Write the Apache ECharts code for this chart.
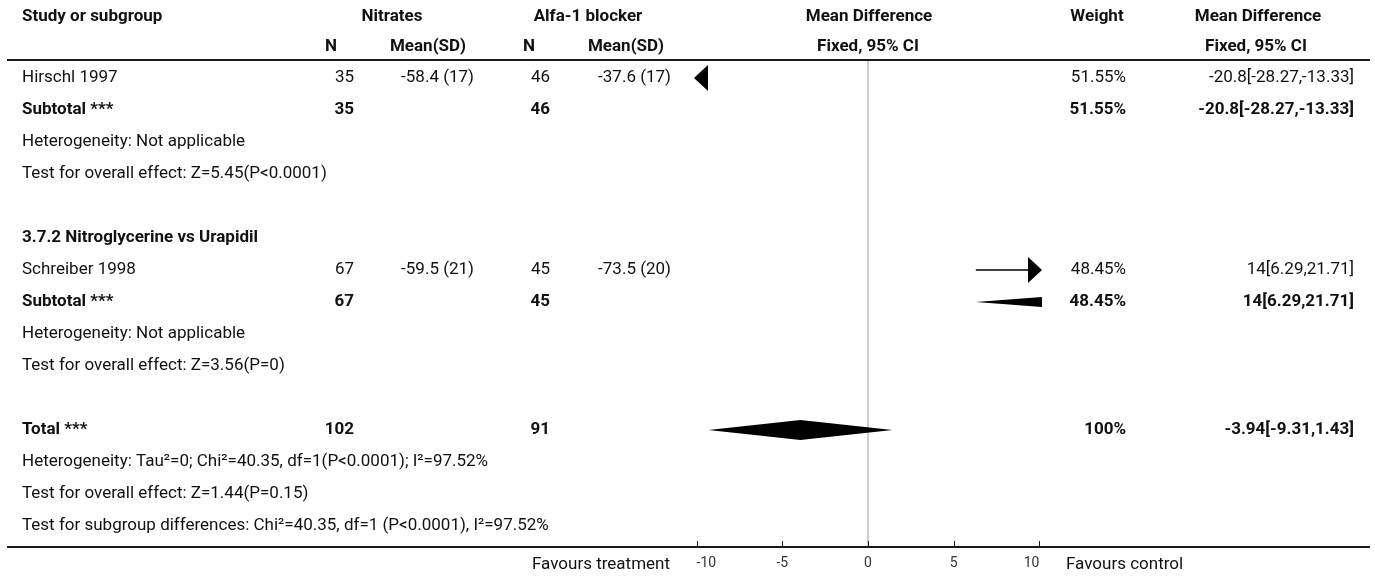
<!DOCTYPE html>
<html>
<head>
<meta charset="utf-8">
<script src="https://cdn.jsdelivr.net/npm/echarts@6/dist/echarts.min.js"></script>
<style>
  html, body { margin: 0; padding: 0; background: #fff; }
  #chart { width: 1375px; height: 579px; }
</style>
</head>
<body>
<div id="chart"></div>
<script>
// ---- study level data ----
const studyNames   = ['Hirschl 1997', 'Schreiber 1998'];
const nitratesN    = [35, 67];
const nitratesMean = [-58.4, -59.5];
const nitratesSD   = [17, 21];
const alfaN        = [46, 45];
const alfaMean     = [-37.6, -73.5];
const alfaSD       = [17, 20];
const studyMD      = [-20.8, 14];
const studyLow     = [-28.27, 6.29];
const studyHigh    = [-13.33, 21.71];
const studyWeight  = [51.55, 48.45];

// ---- subgroup text ----
const subgroupTitles = ['', '3.7.2 Nitroglycerine vs Urapidil'];
const subgroupHet    = ['Heterogeneity: Not applicable', 'Heterogeneity: Not applicable'];
const subgroupEffect = ['Test for overall effect: Z=5.45(P<0.0001)', 'Test for overall effect: Z=3.56(P=0)'];

// ---- pooled result ----
const totalN      = [102, 91];
const totalMD     = -3.94;
const totalLow    = -9.31;
const totalHigh   = 1.43;
const totalWeight = 100;
const totalNotes  = [
  'Heterogeneity: Tau²=0; Chi²=40.35, df=1(P<0.0001); I²=97.52%',
  'Test for overall effect: Z=1.44(P=0.15)',
  'Test for subgroup differences: Chi²=40.35, df=1 (P<0.0001), I²=97.52%'
];

// ---- axis ----
const axisTicks = [-10, -5, 0, 5, 10];
const axisMin = -10.15;
const axisMax = 10.15;
const favoursLeft = 'Favours treatment';
const favoursRight = 'Favours control';

// ---- layout ----
const FONT = 'Roboto, "Noto Sans", sans-serif';
const FS = 17;
const ROW0 = 78, ROW_H = 32, AXIS_Y = 547;
const yMin = -ROW0 / ROW_H;
const yMax = (AXIS_Y - ROW0) / ROW_H;
const COL = { label: 22, nN: 354, nMean: 474, aN: 550, aMean: 671, weight: 1126, ci: 1354 };

// build table rows
const rows = [];
for (let g = 0; g < studyNames.length; g++) {
  if (subgroupTitles[g]) rows.push({ kind: 'title', text: subgroupTitles[g] });
  rows.push({ kind: 'study', i: g });
  rows.push({ kind: 'subtotal', i: g });
  rows.push({ kind: 'note', text: subgroupHet[g] });
  rows.push({ kind: 'note', text: subgroupEffect[g] });
  rows.push({ kind: 'blank' });
}
rows.push({ kind: 'total' });
totalNotes.forEach(t => rows.push({ kind: 'note', text: t }));

const ciText = (md, lo, hi) => `${md}[${lo},${hi}]`;
const msd = (m, s) => `${m} (${s})`;

function txt(text, x, y, align, bold, extra) {
  return {
    type: 'text',
    style: Object.assign({
      text: String(text), x: x, y: y,
      align: align, verticalAlign: 'middle',
      font: (bold ? 'bold ' : '') + FS + 'px ' + FONT,
      fill: '#111'
    }, extra || {})
  };
}

function renderTable(params, api) {
  const idx = params.dataIndex;
  const children = [];
  if (idx === rows.length) {
    // headers, rules, axis ticks and direction captions
    const y1 = api.coord([0, yMin + 17 / ROW_H])[1];
    const y2 = api.coord([0, yMin + 47 / ROW_H])[1];
    const ruleY = api.coord([0, yMin + 60 / ROW_H])[1];
    const axisY = api.coord([0, yMax])[1];
    const zeroX = api.coord([0, 0])[0];
    children.push(
      txt('Study or subgroup', COL.label, y1, 'left', true),
      txt('Nitrates', 392, y1, 'center', true),
      txt('Alfa-1 blocker', 588, y1, 'center', true),
      txt('Mean Difference', 869, y1, 'center', true),
      txt('Weight', 1097, y1, 'center', true),
      txt('Mean Difference', 1258, y1, 'center', true),
      txt('N', 331, y2, 'center', true),
      txt('Mean(SD)', 428, y2, 'center', true),
      txt('N', 529, y2, 'center', true),
      txt('Mean(SD)', 626, y2, 'center', true),
      txt('Fixed, 95% CI', 868, y2, 'center', true),
      txt('Fixed, 95% CI', 1256, y2, 'center', true),
      { type: 'line', shape: { x1: zeroX, y1: ruleY, x2: zeroX, y2: axisY }, style: { stroke: '#9a9a9a', lineWidth: 1 } },
      { type: 'line', shape: { x1: 7, y1: ruleY, x2: 1370, y2: ruleY }, style: { stroke: '#1a1a1a', lineWidth: 2 } },
      { type: 'line', shape: { x1: 7, y1: axisY, x2: 1370, y2: axisY }, style: { stroke: '#1a1a1a', lineWidth: 2 } },
      txt(favoursLeft, 670, axisY + 18, 'right', false),
      txt(favoursRight, 1066, axisY + 18, 'left', false)
    );
    axisTicks.forEach(t => {
      const tx = Math.round(api.coord([t, 0])[0]) + 0.5;
      children.push({ type: 'line', shape: { x1: tx, y1: axisY - 6, x2: tx, y2: axisY }, style: { stroke: '#1a1a1a', lineWidth: 1 } });
    });
    return { type: 'group', children: children };
  }
  const r = rows[idx];
  const y = api.coord([0, idx])[1];
  if (r.kind === 'title') {
    children.push(txt(r.text, COL.label, y, 'left', true));
  } else if (r.kind === 'note') {
    children.push(txt(r.text, COL.label, y, 'left', false));
  } else if (r.kind === 'study') {
    const i = r.i;
    children.push(
      txt(studyNames[i], COL.label, y, 'left', false),
      txt(nitratesN[i], COL.nN, y, 'right', false),
      txt(msd(nitratesMean[i], nitratesSD[i]), COL.nMean, y, 'right', false),
      txt(alfaN[i], COL.aN, y, 'right', false),
      txt(msd(alfaMean[i], alfaSD[i]), COL.aMean, y, 'right', false),
      txt(studyWeight[i] + '%', COL.weight, y, 'right', false),
      txt(ciText(studyMD[i], studyLow[i], studyHigh[i]), COL.ci, y, 'right', false)
    );
  } else if (r.kind === 'subtotal') {
    const i = r.i;
    children.push(
      txt('Subtotal ***', COL.label, y, 'left', true),
      txt(nitratesN[i], COL.nN, y, 'right', true),
      txt(alfaN[i], COL.aN, y, 'right', true),
      txt(studyWeight[i] + '%', COL.weight, y, 'right', true),
      txt(ciText(studyMD[i], studyLow[i], studyHigh[i]), COL.ci, y, 'right', true)
    );
  } else if (r.kind === 'total') {
    children.push(
      txt('Total ***', COL.label, y, 'left', true),
      txt(totalN[0], COL.nN, y, 'right', true),
      txt(totalN[1], COL.aN, y, 'right', true),
      txt(totalWeight + '%', COL.weight, y, 'right', true),
      txt(ciText(totalMD, totalLow, totalHigh), COL.ci, y, 'right', true)
    );
  }
  return { type: 'group', children: children };
}

// effect marks: CI lines with arrows for studies, diamonds for pooled rows
const markData = [];
rows.forEach((r, idx) => {
  if (r.kind === 'study') markData.push({ value: [studyMD[r.i], idx, studyLow[r.i], studyHigh[r.i], 0, studyWeight[r.i]] });
  if (r.kind === 'subtotal') markData.push({ value: [studyMD[r.i], idx, studyLow[r.i], studyHigh[r.i], 1, studyWeight[r.i]] });
  if (r.kind === 'total') markData.push({ value: [totalMD, idx, totalLow, totalHigh, 1, totalWeight] });
});

const ARROW_LEN = 14, ARROW_HALF = 13, DIAMOND_HALF = 10;

function renderMarks(params, api) {
  const md = api.value(0), row = api.value(1), lo = api.value(2), hi = api.value(3), isPooled = api.value(4), w = api.value(5);
  const y = api.coord([0, row])[1];
  const px = v => api.coord([v, row])[0];
  const children = [];
  if (isPooled) {
    children.push({
      type: 'polygon',
      shape: { points: [[px(lo), y], [px(md), y - DIAMOND_HALF], [px(hi), y], [px(md), y + DIAMOND_HALF]] },
      style: { fill: '#000' }
    });
  } else {
    const xMinPx = px(axisMin), xMaxPx = px(axisMax);
    let x1 = px(Math.max(lo, axisMin));
    let x2 = px(Math.min(hi, axisMax));
    if (lo < axisMin) {
      children.push({ type: 'polygon', shape: { points: [[xMinPx, y], [xMinPx + ARROW_LEN, y - ARROW_HALF], [xMinPx + ARROW_LEN, y + ARROW_HALF]] }, style: { fill: '#000' } });
      x1 = Math.max(x1, xMinPx + ARROW_LEN);
    }
    if (hi > axisMax) {
      children.push({ type: 'polygon', shape: { points: [[xMaxPx, y], [xMaxPx - ARROW_LEN, y - ARROW_HALF], [xMaxPx - ARROW_LEN, y + ARROW_HALF]] }, style: { fill: '#000' } });
      x2 = Math.min(x2, xMaxPx - ARROW_LEN);
    }
    if (x2 > x1) {
      children.push({ type: 'line', shape: { x1: x1, y1: y, x2: x2, y2: y }, style: { stroke: '#000', lineWidth: 1.5 } });
    }
    if (md >= axisMin && md <= axisMax) {
      const s = 4 + w / 10;
      children.push({ type: 'rect', shape: { x: px(md) - s / 2, y: y - s / 2, width: s, height: s }, style: { fill: '#000' } });
    }
  }
  return { type: 'group', children: children };
}

const chart = echarts.init(document.getElementById('chart'));
chart.setOption({
  animation: false,
  grid: { left: 694, right: 1375 - 1042, top: 0, bottom: 579 - AXIS_Y },
  xAxis: {
    type: 'value', min: axisMin, max: axisMax, position: 'bottom',
    axisLine: { show: false, onZero: false },
    splitLine: { show: false },
    axisTick: { show: false },
    axisLabel: { customValues: axisTicks, fontSize: 14, color: '#333', margin: 9, fontFamily: FONT, alignMinLabel: 'left', alignMaxLabel: 'right' }
  },
  yAxis: { type: 'value', inverse: true, min: yMin, max: yMax, show: false },
  series: [
    {
      type: 'custom', name: 'table', clip: false, silent: true, z: 3,
      data: rows.map((r, i) => [0, i]).concat([[0, 0]]),
      renderItem: renderTable
    },
    {
      type: 'custom', name: 'effects', clip: true, silent: true, z: 4,
      data: markData,
      renderItem: renderMarks
    }
  ]
});
</script>
</body>
</html>
